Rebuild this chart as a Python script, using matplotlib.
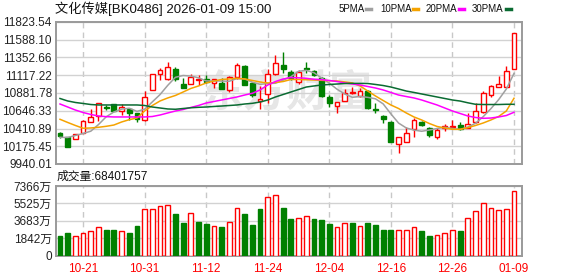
import numpy as np
import matplotlib
matplotlib.use("Agg")
import matplotlib.pyplot as plt
from matplotlib.lines import Line2D

plt.rcParams['font.family'] = ['Liberation Sans', 'Noto Sans CJK SC']

title = "文化传媒[BK0486] 2026-01-09 15:00"

# daily OHLC, 2025-10-16 .. 2026-01-09
opens = [10351, 10294, 10272, 10355, 10493, 10577, 10696, 10732, 10639, 10666,
         10613, 10524, 10918, 11130, 11071, 11200, 11005, 10997, 11054, 11064,
         11011, 11018, 10922, 11090, 11240, 11011, 10782, 10869, 11134, 11253,
         11160, 11032, 11217, 11174, 11077, 10825, 10713, 10780, 10878, 10842,
         10908, 10670, 10577, 10501, 10205, 10236, 10400, 10497, 10414, 10294,
         10414, 10427, 10457, 10414, 10501, 10634, 10859, 10965, 10965, 11196]
highs = [10371, 10302, 10334, 10524, 10666, 10753, 10723, 10736, 10736, 10676,
         10623, 10908, 11134, 11209, 11289, 11227, 11077, 11130, 11121, 11121,
         11068, 11077, 11107, 11284, 11247, 11032, 10975, 11196, 11386, 11430,
         11187, 11187, 11289, 11187, 11094, 10855, 10759, 10931, 10965, 10944,
         10928, 10749, 10590, 10504, 10294, 10435, 10546, 10514, 10427, 10414,
         10471, 10524, 10493, 10613, 10745, 10908, 10988, 11107, 11240, 11674]
lows = [10285, 10170, 10272, 10347, 10493, 10514, 10656, 10643, 10594, 10524,
        10497, 10517, 10915, 11054, 11054, 11041, 10948, 10995, 10988, 11010,
        10944, 10935, 10899, 11064, 10988, 10833, 10670, 10753, 11121, 11143,
        11054, 11001, 11143, 11101, 10825, 10692, 10621, 10780, 10869, 10833,
        10670, 10621, 10480, 10232, 10090, 10236, 10302, 10444, 10294, 10276,
        10382, 10400, 10391, 10414, 10480, 10621, 10833, 10957, 10957, 11196]
closes = [10305, 10170, 10334, 10506, 10560, 10745, 10688, 10647, 10700, 10621,
          10533, 10833, 11130, 11187, 11231, 11068, 10952, 11094, 11071, 11028,
          11064, 10939, 11090, 11253, 10992, 10855, 10796, 11134, 11276, 11200,
          11081, 11156, 11196, 11121, 10842, 10745, 10759, 10878, 10895, 10908,
          10679, 10662, 10541, 10236, 10294, 10355, 10524, 10461, 10321, 10391,
          10440, 10444, 10400, 10471, 10643, 10878, 10975, 10997, 11178, 11674]

ma5 = [10294, 10292, 10318, 10345, 10375, 10463, 10566, 10630, 10668, 10680,
       10638, 10667, 10764, 10861, 10983, 11090, 11114, 11106, 11084, 11042,
       11042, 11040, 11038, 11074, 11068, 11026, 10997, 11007, 11011, 11052,
       11097, 11170, 11182, 11151, 11080, 11012, 10932, 10869, 10824, 10837,
       10824, 10805, 10737, 10605, 10483, 10418, 10390, 10374, 10391, 10411,
       10427, 10411, 10399, 10430, 10480, 10568, 10674, 10793, 10934, 11141]
ma10 = [10533, 10491, 10451, 10414, 10418, 10427, 10440, 10457, 10497, 10528,
        10550, 10643, 10716, 10776, 10816, 10849, 10895, 10942, 10975, 11015,
        11041, 11061, 11068, 11077, 11068, 11048, 11028, 11015, 11021, 11034,
        11061, 11061, 11058, 11054, 11050, 11045, 11041, 11028, 11015, 10975,
        10908, 10842, 10782, 10723, 10676, 10617, 10564, 10524, 10477, 10438,
        10418, 10400, 10400, 10422, 10451, 10484, 10524, 10570, 10643, 10812]
ma20 = [10736, 10696, 10656, 10623, 10597, 10577, 10568, 10564, 10564, 10564,
        10564, 10564, 10570, 10590, 10617, 10643, 10663, 10690, 10716, 10749,
        10769, 10789, 10809, 10829, 10855, 10878, 10922, 10988, 11034, 11068,
        11087, 11083, 11077, 11064, 11058, 11048, 11034, 11015, 11001, 10988,
        10968, 10948, 10922, 10889, 10855, 10835, 10816, 10789, 10756, 10723,
        10683, 10643, 10610, 10577, 10557, 10546, 10550, 10564, 10583, 10626]
ma30 = [10809, 10776, 10756, 10743, 10729, 10723, 10723, 10723, 10723, 10723,
        10723, 10716, 10696, 10683, 10670, 10666, 10676, 10686, 10692, 10696,
        10703, 10709, 10716, 10723, 10736, 10745, 10762, 10789, 10829, 10862,
        10895, 10928, 10961, 10975, 10988, 10995, 11001, 11008, 11010, 11010,
        11008, 10995, 10981, 10961, 10935, 10908, 10889, 10869, 10849, 10829,
        10809, 10789, 10775, 10752, 10732, 10729, 10729, 10729, 10732, 10732]

# volume in 万 (10k shares)
volumes = [2082, 2399, 2047, 2364, 2575, 2998, 2716, 2716, 2575, 2399,
           3139, 4900, 4900, 5217, 5358, 4407, 3456, 4477, 3561, 3350,
           3104, 3033, 3526, 5006, 4407, 3244, 4900, 6168, 6380, 5041,
           3878, 3949, 4161, 3878, 3773, 3385, 2998, 3421, 3456, 3104,
           3456, 3244, 2716, 2716, 2681, 2681, 2998, 2610, 2082, 2188,
           2364, 2681, 2610, 3949, 4689, 5534, 5006, 4795, 4900, 6840.1757]
vol_dir = ("ggrrrrggrg" "grrrrggrgg" "rgrrgggrrg"
           "grrgggrrgr" "ggggrrrggr" "rrgrrrrrrr")

date_idx = [3, 11, 19, 27, 35, 43, 51, 59]
date_labels = ["10-21", "10-31", "11-12", "11-24", "12-04", "12-16", "12-26", "01-09"]

price_ticks = [9940.01, 10175.45, 10410.89, 10646.33, 10881.78,
               11117.22, 11352.66, 11588.10, 11823.54]
vol_ticks = [0, 1842, 3683, 5525, 7366]

ma_names = ["5PMA", "10PMA", "20PMA", "30PMA"]
ma_colors = ["#a0a0a0", "#f5a300", "#ff00ff", "#0a6b32"]

RED = "#ff0000"
GREEN = "#008000"
W, H = 578, 276

fig = plt.figure(figsize=(W / 100, H / 100), dpi=100)
ax = fig.add_axes([56 / W, 1 - 164 / H, 466 / W, 142 / H])
axv = fig.add_axes([56 / W, 1 - 255.7 / H, 466 / W, 69.7 / H])

x = np.arange(len(closes))
o = np.array(opens); c = np.array(closes)
up = c >= o
bw = 0.62

for a in (ax, axv):
    a.set_xlim(-0.52, 60.04)
    for s in a.spines.values():
        s.set_color("#9a9a9a")
        s.set_linewidth(1.4)
    a.set_xticks(date_idx)
    a.grid(axis='x', color='#c8c8c8', lw=1, ls=(0, (4, 3)))
    a.grid(axis='y', color='#d2d2d2', lw=1, ls='-')
    a.set_axisbelow(True)
    a.tick_params(length=0, labelsize=8.5, pad=3, colors='#222222')

# watermark
ax.text(29.5, 10880, "东方财富", fontsize=31, color='#e6e6e6', ha='center',
        va='center', fontweight='bold', zorder=0.5, family='Noto Sans CJK SC')

# candles
ax.vlines(x, lows, highs, colors=np.where(up, RED, GREEN), lw=1, zorder=2)
body_h = np.abs(c - o)
ax.bar(x, np.maximum(body_h, 1), bottom=np.minimum(o, c), width=bw,
       color=np.where(up, 'white', GREEN), edgecolor=np.where(up, RED, GREEN),
       lw=1, zorder=3)

for vals, col in zip([ma5, ma10, ma20, ma30], ma_colors):
    ax.plot(x, vals, color=col, lw=1.1, zorder=4)

ax.set_ylim(price_ticks[0], price_ticks[-1])
ax.set_yticks(price_ticks)
ax.set_yticklabels([f"{t:.2f}" for t in price_ticks])
ax.set_xticklabels([])

# volume
vup = np.array([d == 'r' for d in vol_dir])
axv.bar(x, volumes, width=bw, color=np.where(vup, 'white', GREEN),
        edgecolor=np.where(vup, RED, GREEN), lw=1, zorder=3)
axv.set_ylim(0, vol_ticks[-1])
axv.set_yticks(vol_ticks)
axv.set_yticklabels(["0"] + [f"{t}万" for t in vol_ticks[1:]])
axv.set_xticklabels(date_labels, color=RED)
axv.tick_params(axis='x', pad=5)

# header texts
fig.text(55 / W, 1 - 9 / H, title, fontsize=9.5, va='center', ha='left', color='#111111')
fig.text(57 / W, 1 - 177 / H, f"成交量:{int(round(volumes[-1] * 1e4))}",
         fontsize=8.5, va='center', ha='left', color='#111111')

leg_x = [339, 380, 426, 472]
leg_line = [(366, 371), (413, 418), (459, 464), (506, 511)]
for name, col, lx, (l0, l1) in zip(ma_names, ma_colors, leg_x, leg_line):
    fig.text(lx / W, 1 - 9 / H, name, fontsize=7, va='center', ha='left', color='#111111')
    fig.add_artist(Line2D([l0 / W, l1 / W], [1 - 9 / H, 1 - 9 / H], color=col, lw=2.5))

fig.savefig("out.png", dpi=100)
